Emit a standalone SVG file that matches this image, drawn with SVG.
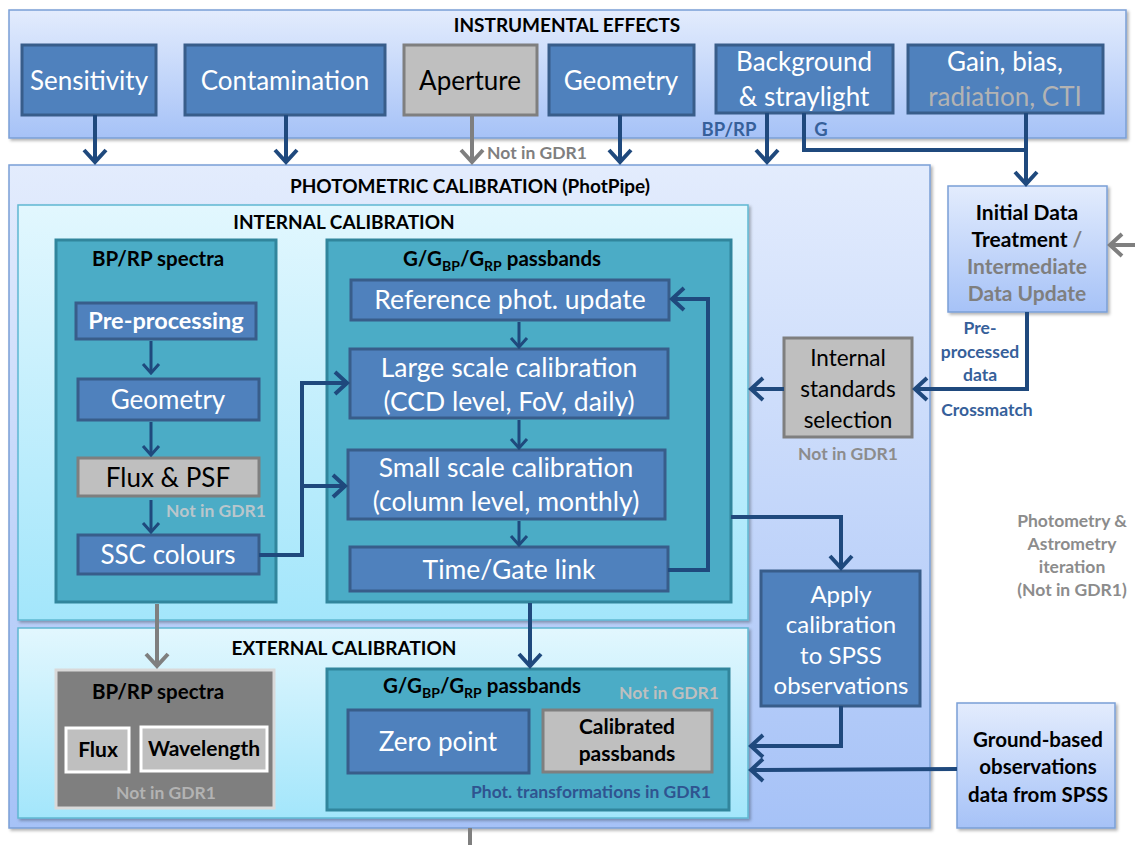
<svg xmlns="http://www.w3.org/2000/svg" width="1135" height="845" viewBox="0 0 1135 845">
<defs>
<linearGradient id="gBlue" x1="0" y1="0" x2="0" y2="1"><stop offset="0" stop-color="#e3ecfd"/><stop offset="1" stop-color="#a6c2f7"/></linearGradient>
<linearGradient id="gCyan" x1="0" y1="0" x2="0" y2="1"><stop offset="0" stop-color="#e2f7fe"/><stop offset="1" stop-color="#a3e6fb"/></linearGradient>
<filter id="sh" x="-5%" y="-5%" width="110%" height="110%"><feDropShadow dx="2" dy="2" stdDeviation="1.5" flood-color="#000" flood-opacity="0.3"/></filter>
<marker id="aB" viewBox="-14 -13 17 26" markerWidth="17" markerHeight="26" refX="0" refY="0" markerUnits="userSpaceOnUse" orient="auto"><path d="M-12,-11 L0,0 L-12,11" fill="none" stroke="#1f497d" stroke-width="4"/></marker>
<marker id="aS" viewBox="-12 -10 14 20" markerWidth="14" markerHeight="20" refX="0" refY="0" markerUnits="userSpaceOnUse" orient="auto"><path d="M-9,-8 L0,0 L-9,8" fill="none" stroke="#1f497d" stroke-width="3"/></marker>
<marker id="aG" viewBox="-14 -13 17 26" markerWidth="17" markerHeight="26" refX="0" refY="0" markerUnits="userSpaceOnUse" orient="auto"><path d="M-12,-11 L0,0 L-12,11" fill="none" stroke="#7f7f7f" stroke-width="4"/></marker>
</defs>
<style>
text{font-family:Lato,"Open Sans","Liberation Sans",sans-serif;text-anchor:middle}
.blue{fill:#4f81bd;stroke:#385d8a;stroke-width:3}
.grey{fill:#bfbfbf;stroke:#7f7f7f;stroke-width:3}
.teal{fill:#4bacc6;stroke:#31859c;stroke-width:3}
.w{fill:#fff;font-size:26px}
.k{fill:#000;font-size:26px}
.t{font-weight:bold;font-size:19px;fill:#000}
.b{font-weight:bold;font-size:20.5px;fill:#000}
.n{font-weight:bold;font-size:17.5px}
.lb{fill:none;stroke:#1f497d;stroke-width:4}
.ls{fill:none;stroke:#1f497d;stroke-width:3}
.lg{fill:none;stroke:#7f7f7f;stroke-width:4}
</style>

<g id="instrumental">
<rect x="9" y="10" width="1117" height="128" fill="url(#gBlue)" stroke="#7a9fd6" stroke-width="1.5" filter="url(#sh)"/>
<text x="567" y="32" class="t">INSTRUMENTAL EFFECTS</text>
</g>
<g id="sensitivity"><rect x="22" y="45" width="134" height="70" class="blue"/><text x="89" y="90" class="w">Sensitivity</text></g>
<g id="contamination"><rect x="185" y="45" width="200" height="70" class="blue"/><text x="285" y="90" class="w">Contamination</text></g>
<g id="aperture"><rect x="404" y="45" width="133" height="70" class="grey"/><text x="470" y="90" class="k">Aperture</text></g>
<g id="geometry"><rect x="549" y="45" width="145" height="70" class="blue"/><text x="621" y="90" class="w">Geometry</text></g>
<g id="background"><rect x="716" y="45" width="177" height="68" class="blue"/><text x="804" y="71" class="w">Background</text><text x="804" y="106" class="w">&amp; straylight</text></g>
<g id="gain"><rect x="908" y="45" width="195" height="68" class="blue"/><text x="1005" y="71" class="w">Gain, bias,</text><text x="1005" y="106" class="w" style="fill:#b3b3b3">radiation, CTI</text></g>

<g id="photpipe">
<rect x="9" y="165" width="921" height="663" fill="url(#gBlue)" stroke="#7a9fd6" stroke-width="1.5" filter="url(#sh)"/>
<text x="470" y="193" class="t">PHOTOMETRIC CALIBRATION (PhotPipe)</text>
</g>
<g id="internal">
<rect x="18" y="205" width="730" height="415" fill="url(#gCyan)" stroke="#5fb8d2" stroke-width="1.5" filter="url(#sh)"/>
<text x="344" y="229" class="t">INTERNAL CALIBRATION</text>
</g>
<g id="int-bprp">
<rect x="56" y="240" width="220" height="362" class="teal"/>
<text x="158" y="266" class="b">BP/RP spectra</text>
</g>
<g id="preproc"><rect x="76" y="303" width="180" height="36" class="blue"/><text x="166" y="329" class="w" style="font-size:23.5px;font-weight:bold">Pre-processing</text></g>
<g id="geom2"><rect x="78" y="379" width="181" height="41" class="blue"/><text x="168" y="409" class="w">Geometry</text></g>
<g id="fluxpsf"><rect x="78" y="458" width="181" height="38" class="grey"/><text x="168" y="487" class="k">Flux &amp; PSF</text><text x="216" y="517" class="n" fill="#b9c6cc">Not in GDR1</text></g>
<g id="ssc"><rect x="78" y="535" width="181" height="39" class="blue"/><text x="168" y="564" class="w">SSC colours</text></g>

<g id="int-passbands">
<rect x="327" y="240" width="404" height="362" class="teal"/>
<text x="502" y="266" class="b">G/G<tspan font-size="14" dy="5">BP</tspan><tspan dy="-5">/G</tspan><tspan font-size="14" dy="5">RP</tspan><tspan dy="-5"> passbands</tspan></text>
</g>
<g id="refphot"><rect x="351" y="280" width="318" height="40" class="blue"/><text x="510" y="309" class="w" style="font-size:26.5px">Reference phot. update</text></g>
<g id="largescale"><rect x="350" y="349" width="318" height="69" class="blue"/><text x="509" y="377" class="w" style="font-size:26.5px">Large scale calibration</text><text x="509" y="411" class="w" style="font-size:26.5px">(CCD level, FoV, daily)</text></g>
<g id="smallscale"><rect x="348" y="450" width="317" height="69" class="blue"/><text x="506" y="477" class="w" style="font-size:26.5px">Small scale calibration</text><text x="506" y="511" class="w" style="font-size:26.5px">(column level, monthly)</text></g>
<g id="timegate"><rect x="350" y="547" width="318" height="44" class="blue"/><text x="509" y="579" class="w" style="font-size:26.5px">Time/Gate link</text></g>

<g id="external">
<rect x="18" y="628" width="730" height="190" fill="url(#gCyan)" stroke="#5fb8d2" stroke-width="1.5" filter="url(#sh)"/>
<text x="344" y="655" class="t">EXTERNAL CALIBRATION</text>
</g>
<g id="ext-bprp">
<rect x="56" y="670" width="218" height="138" fill="#7f7f7f" stroke="#d9d9d9" stroke-width="3"/>
<text x="158" y="699" class="b">BP/RP spectra</text>
<text x="166" y="799" class="n" fill="#b3b3b3">Not in GDR1</text>
</g>
<g id="flux"><rect x="66" y="728" width="63" height="44" fill="#bfbfbf" stroke="#fff" stroke-width="3"/><text x="98" y="757" class="b" style="font-size:21px">Flux</text></g>
<g id="wavelength"><rect x="141" y="727" width="126" height="44" fill="#bfbfbf" stroke="#fff" stroke-width="3"/><text x="204" y="756" class="b" style="font-size:21px">Wavelength</text></g>
<g id="ext-passbands">
<rect x="327" y="669" width="402" height="141" class="teal"/>
<text x="482" y="693" class="b">G/G<tspan font-size="14" dy="5">BP</tspan><tspan dy="-5">/G</tspan><tspan font-size="14" dy="5">RP</tspan><tspan dy="-5"> passbands</tspan></text>
<text x="669" y="699" class="n" fill="#bfbfbf">Not in GDR1</text>
<text x="591" y="798" class="n" fill="#2f5490">Phot. transformations in GDR1</text>
</g>
<g id="zeropoint"><rect x="348" y="710" width="181" height="63" class="blue"/><text x="438" y="751" class="w">Zero point</text></g>
<g id="calpass"><rect x="543" y="710" width="169" height="62" class="grey"/><text x="627" y="734" class="b" style="font-size:21px">Calibrated</text><text x="627" y="761" class="b" style="font-size:21px">passbands</text></g>

<g id="intstandards"><rect x="784" y="338" width="128" height="99" class="grey"/><text x="848" y="366" class="k" style="font-size:22.5px">Internal</text><text x="848" y="397" class="k" style="font-size:22.5px">standards</text><text x="848" y="428" class="k" style="font-size:22.5px">selection</text><text x="848" y="460" class="n" fill="#8c8c8c">Not in GDR1</text></g>

<g id="apply"><rect x="761" y="571" width="159" height="135" class="blue"/><text x="841" y="603" class="w" style="font-size:24px">Apply</text><text x="841" y="633" class="w" style="font-size:24px">calibration</text><text x="841" y="664" class="w" style="font-size:24px">to SPSS</text><text x="841" y="694" class="w" style="font-size:24px">observations</text></g>

<g id="idt"><rect x="948" y="186" width="159" height="126" fill="url(#gBlue)" stroke="#7a9fd6" stroke-width="1.5" filter="url(#sh)"/>
<text x="1027" y="220" class="b" style="font-size:21px">Initial Data</text>
<text x="1027" y="247" class="b" style="font-size:21px">Treatment <tspan fill="#7f7f7f">/</tspan></text>
<text x="1027" y="274" class="b" style="font-size:21px;fill:#7f7f7f">Intermediate</text>
<text x="1027" y="301" class="b" style="font-size:21px;fill:#7f7f7f">Data Update</text></g>

<g id="groundbased"><rect x="957" y="703" width="158" height="125" fill="url(#gBlue)" stroke="#7a9fd6" stroke-width="1.5" filter="url(#sh)"/>
<text x="1038" y="747" class="b">Ground-based</text>
<text x="1038" y="774" class="b">observations</text>
<text x="1038" y="802" class="b">data from SPSS</text></g>

<g id="iteration-note">
<text x="1072" y="527" class="n" fill="#8c8c8c">Photometry &amp;</text>
<text x="1072" y="550" class="n" fill="#8c8c8c">Astrometry</text>
<text x="1072" y="573" class="n" fill="#8c8c8c">iteration</text>
<text x="1072" y="596" class="n" fill="#8c8c8c">(Not in GDR1)</text>
</g>

<g id="connectors">
<line x1="95" y1="115" x2="95" y2="162" class="lb" marker-end="url(#aB)"/>
<line x1="286" y1="115" x2="286" y2="162" class="lb" marker-end="url(#aB)"/>
<line x1="472" y1="115" x2="472" y2="162" class="lg" marker-end="url(#aG)"/>
<text x="537" y="159" class="n" fill="#7f7f7f">Not in GDR1</text>
<line x1="620" y1="115" x2="620" y2="162" class="lb" marker-end="url(#aB)"/>
<line x1="767" y1="113" x2="767" y2="162" class="lb" marker-end="url(#aB)"/>
<text x="729" y="136" class="n" fill="#36609a" style="font-size:18.5px">BP/RP</text>
<text x="821" y="136" class="n" fill="#36609a" style="font-size:18.5px">G</text>
<polyline points="804,113 804,150 1026,150" class="lb"/>
<line x1="1026" y1="113" x2="1026" y2="184" class="lb" marker-end="url(#aB)"/>
<line x1="1135" y1="245" x2="1110" y2="245" class="lg" marker-end="url(#aG)"/>
<polyline points="1027,312 1027,389 915,389" class="lb" marker-end="url(#aB)"/>
<text x="980" y="334" class="n" fill="#36609a">Pre-</text>
<text x="980" y="358" class="n" fill="#36609a">processed</text>
<text x="980" y="381" class="n" fill="#36609a">data</text>
<text x="987" y="416" class="n" fill="#36609a">Crossmatch</text>
<line x1="784" y1="389" x2="751" y2="389" class="lb" marker-end="url(#aB)"/>
<line x1="151" y1="341" x2="151" y2="373" class="ls" marker-end="url(#aS)"/>
<line x1="151" y1="422" x2="151" y2="455" class="ls" marker-end="url(#aS)"/>
<line x1="151" y1="500" x2="151" y2="532" class="ls" marker-end="url(#aS)"/>
<polyline points="259,555 302,555 302,383 347,383" class="lb" marker-end="url(#aB)"/>
<line x1="302" y1="486" x2="345" y2="486" class="lb" marker-end="url(#aB)"/>
<line x1="519" y1="322" x2="519" y2="347" class="ls" marker-end="url(#aS)"/>
<line x1="519" y1="420" x2="519" y2="448" class="ls" marker-end="url(#aS)"/>
<line x1="519" y1="521" x2="519" y2="545" class="ls" marker-end="url(#aS)"/>
<polyline points="668,570 708,570 708,299 672,299" class="lb" marker-end="url(#aB)"/>
<polyline points="731,517 841,517 841,568" class="lb" marker-end="url(#aB)"/>
<polyline points="841,706 841,746 751,746" class="lb" marker-end="url(#aB)"/>
<line x1="957" y1="769" x2="751" y2="770" class="lb" marker-end="url(#aB)"/>
<line x1="157" y1="604" x2="157" y2="666" class="lg" marker-end="url(#aG)"/>
<line x1="530" y1="603" x2="530" y2="666" class="lb" marker-end="url(#aB)"/>
<line x1="470" y1="828" x2="470" y2="845" class="lg"/>
</g>
</svg>
